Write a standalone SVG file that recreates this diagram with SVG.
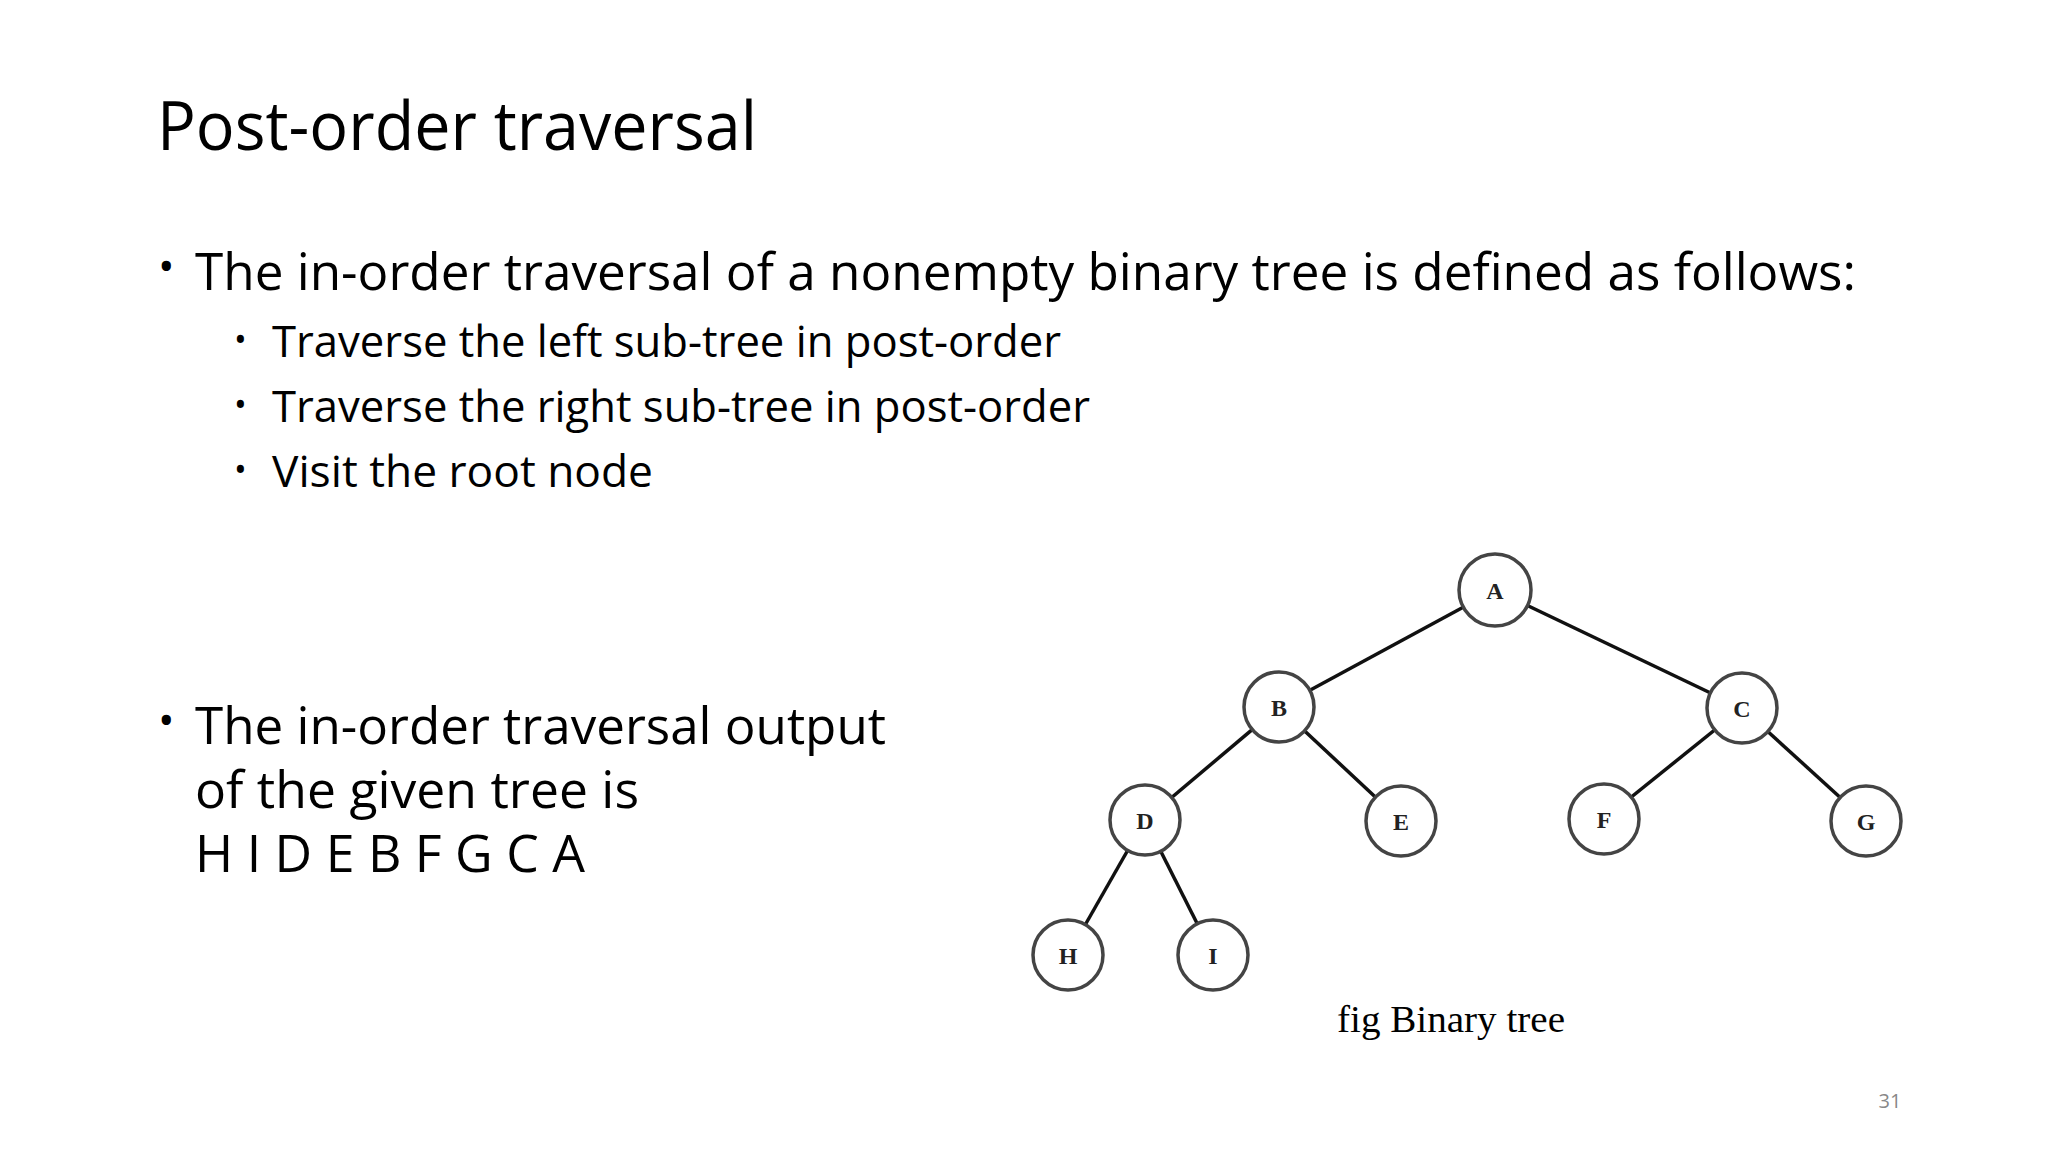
<svg xmlns="http://www.w3.org/2000/svg" width="2048" height="1152" viewBox="0 0 2048 1152">
<style>
.t{font-family:"Open Sans","Liberation Sans",sans-serif;fill:#000}
.n circle{fill:#fff;stroke:#444;stroke-width:3.5}
.n text{font-family:"Liberation Serif",serif;font-weight:bold;font-size:24px;text-anchor:middle;fill:#222}
#edges line{stroke:#111;stroke-width:3.5}
</style>
<rect width="2048" height="1152" fill="#fff"/>
<text class="t" x="157" y="150" font-size="68" textLength="600" lengthAdjust="spacingAndGlyphs">Post-order traversal</text>
<text class="t" x="158" y="282" font-size="44">•</text>
<text class="t" x="195" y="290" font-size="52" textLength="1661" lengthAdjust="spacingAndGlyphs">The in-order traversal of a nonempty binary tree is defined as follows:</text>
<g class="t" font-size="44">
<text x="234" y="352" font-size="34">•</text>
<text x="272" y="357" textLength="789" lengthAdjust="spacingAndGlyphs">Traverse the left sub-tree in post-order</text>
<text x="234" y="417" font-size="34">•</text>
<text x="272" y="422" textLength="818" lengthAdjust="spacingAndGlyphs">Traverse the right sub-tree in post-order</text>
<text x="234" y="482" font-size="34">•</text>
<text x="272" y="487" textLength="381" lengthAdjust="spacingAndGlyphs">Visit the root node</text>
</g>
<text class="t" x="158" y="736" font-size="44">•</text>
<text class="t" x="195" y="744" font-size="52" textLength="691" lengthAdjust="spacingAndGlyphs">The in-order traversal output</text>
<text class="t" x="195" y="808" font-size="52" textLength="444" lengthAdjust="spacingAndGlyphs">of the given tree is</text>
<text class="t" x="195" y="872" font-size="52" textLength="390" lengthAdjust="spacingAndGlyphs">H I D E B F G C A</text>
<g id="edges">
<line x1="1495" y1="590" x2="1279" y2="707"/>
<line x1="1495" y1="590" x2="1742" y2="708"/>
<line x1="1279" y1="707" x2="1145" y2="820"/>
<line x1="1279" y1="707" x2="1401" y2="821"/>
<line x1="1742" y1="708" x2="1604" y2="819"/>
<line x1="1742" y1="708" x2="1866" y2="821"/>
<line x1="1145" y1="820" x2="1068" y2="955"/>
<line x1="1145" y1="820" x2="1213" y2="955"/>
</g>
<g id="A" class="n"><circle cx="1495" cy="590" r="36"/><text x="1495" y="599">A</text></g>
<g id="B" class="n"><circle cx="1279" cy="707" r="35"/><text x="1279" y="716">B</text></g>
<g id="C" class="n"><circle cx="1742" cy="708" r="35"/><text x="1742" y="717">C</text></g>
<g id="D" class="n"><circle cx="1145" cy="820" r="35"/><text x="1145" y="829">D</text></g>
<g id="E" class="n"><circle cx="1401" cy="821" r="35"/><text x="1401" y="830">E</text></g>
<g id="F" class="n"><circle cx="1604" cy="819" r="35"/><text x="1604" y="828">F</text></g>
<g id="G" class="n"><circle cx="1866" cy="821" r="35"/><text x="1866" y="830">G</text></g>
<g id="H" class="n"><circle cx="1068" cy="955" r="35"/><text x="1068" y="964">H</text></g>
<g id="I" class="n"><circle cx="1213" cy="955" r="35"/><text x="1213" y="964">I</text></g>
<text x="1337" y="1032" font-family="Liberation Serif,serif" font-size="38" textLength="228" lengthAdjust="spacingAndGlyphs">fig Binary tree</text>
<text x="1890" y="1108" font-family="Open Sans,Liberation Sans,sans-serif" font-size="20" fill="#888" text-anchor="middle">31</text>
</svg>
